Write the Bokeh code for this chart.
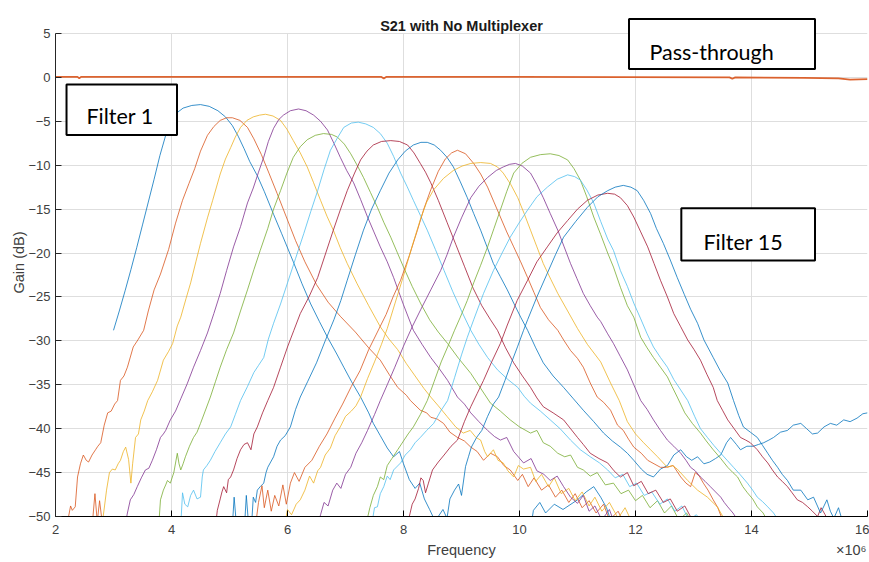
from bokeh.plotting import figure
from bokeh.models import Range1d, Label, BoxAnnotation, FixedTicker, LinearAxis
from bokeh.embed import file_html
from bokeh.resources import INLINE

# Frequency axis in MHz (axis shows x10^6), gain in dB.
FILTER_01 = [(3.00,-28.8),(3.10,-26.6),(3.20,-24.3),(3.30,-21.9),(3.40,-19.4),(3.50,-16.8),(3.60,-14.2),(3.70,-11.6),(3.80,-8.9),(3.90,-6.6),(4.00,-5.0),(4.10,-4.0),(4.20,-3.5),(4.35,-3.2),(4.50,-3.1),(4.65,-3.3),(4.80,-3.8),(4.93,-4.5),(5.05,-5.5),(5.15,-6.7),(5.25,-8.1),(5.35,-9.6),(5.48,-11.2),(5.60,-13.0),(5.76,-15.6),(5.90,-17.8),(6.10,-21.0),(6.25,-23.5),(6.40,-25.8),(6.55,-27.8),(6.69,-29.6),(6.85,-31.5),(6.97,-33.0),(7.10,-34.6),(7.26,-36.4),(7.40,-38.2),(7.48,-39.4),(7.60,-40.8),(7.72,-42.2),(7.83,-43.2),(7.93,-42.6),(8.00,-44.0),(8.10,-45.8),(8.20,-46.8),(8.28,-46.2),(8.36,-48.0),(8.45,-49.2),(8.55,-50.6),(8.65,-52.0),(9.50,-53.0),(10.20,-51.0),(10.24,-49.3),(10.35,-48.4),(10.45,-49.6),(10.60,-48.6),(10.75,-49.2),(11.00,-48.1),(11.15,-47.2),(11.28,-46.6),(11.40,-47.8),(11.50,-49.0),(11.60,-51.0)]
FILTER_02 = [(2.22,-50.2),(2.26,-48.8),(2.29,-49.3),(2.34,-48.9),(2.38,-45.5),(2.43,-44.0),(2.48,-43.0),(2.53,-43.6),(2.57,-43.8),(2.63,-43.0),(2.69,-42.4),(2.73,-42.0),(2.78,-41.6),(2.84,-39.6),(2.90,-38.2),(2.96,-38.0),(3.02,-37.2),(3.07,-36.8),(3.12,-34.5),(3.18,-34.0),(3.24,-33.0),(3.34,-30.7),(3.42,-29.9),(3.52,-28.8),(3.60,-26.6),(3.70,-24.2),(3.81,-22.4),(3.95,-19.6),(4.07,-16.6),(4.19,-14.0),(4.30,-12.1),(4.40,-10.4),(4.50,-8.4),(4.62,-6.6),(4.73,-5.6),(4.84,-4.9),(4.95,-4.6),(5.05,-4.6),(5.18,-4.9),(5.31,-5.7),(5.42,-7.0),(5.55,-8.8),(5.68,-10.9),(5.82,-13.2),(5.98,-15.9),(6.14,-18.6),(6.30,-21.0),(6.50,-23.6),(6.70,-25.6),(6.91,-27.2),(7.17,-29.0),(7.40,-30.8),(7.60,-32.2),(7.75,-33.8),(7.90,-35.3),(8.05,-36.2),(8.12,-36.8),(8.29,-37.9),(8.40,-38.2),(8.47,-38.7),(8.58,-38.9),(8.69,-39.4),(8.80,-40.4),(8.93,-41.0),(9.05,-41.4),(9.16,-42.1),(9.27,-42.6),(9.38,-43.6),(9.50,-42.8),(9.62,-43.2),(9.73,-44.2),(9.84,-44.7),(9.97,-45.9),(10.05,-45.2),(10.15,-46.6),(10.25,-45.6),(10.38,-47.0),(10.50,-46.4),(10.62,-47.8),(10.73,-47.0),(10.85,-48.4),(10.96,-47.4),(11.08,-49.0),(11.20,-48.2),(11.32,-49.6),(11.45,-48.6),(11.55,-50.4),(11.70,-49.4),(11.82,-51.0)]
FILTER_03 = [(2.80,-51.0),(2.83,-49.6),(2.88,-47.0),(2.93,-45.0),(2.98,-44.6),(3.03,-44.7),(3.08,-44.0),(3.12,-43.6),(3.17,-42.6),(3.21,-42.1),(3.26,-43.5),(3.30,-46.2),(3.33,-44.0),(3.38,-41.0),(3.43,-40.6),(3.47,-39.0),(3.53,-38.0),(3.59,-36.8),(3.67,-35.8),(3.76,-34.5),(3.86,-32.2),(3.95,-31.2),(4.02,-30.3),(4.10,-28.3),(4.16,-27.3),(4.25,-25.2),(4.33,-23.4),(4.42,-21.0),(4.50,-18.9),(4.62,-16.0),(4.71,-14.0),(4.84,-11.0),(4.93,-9.3),(5.02,-8.0),(5.10,-6.8),(5.19,-5.7),(5.30,-4.9),(5.41,-4.5),(5.52,-4.3),(5.62,-4.2),(5.75,-4.4),(5.88,-4.9),(5.99,-5.9),(6.10,-7.2),(6.22,-8.6),(6.34,-10.2),(6.45,-12.0),(6.57,-14.0),(6.68,-15.8),(6.79,-17.4),(6.91,-19.4),(7.03,-21.2),(7.20,-23.5),(7.40,-26.0),(7.60,-28.4),(7.75,-29.8),(7.90,-31.0),(8.05,-32.6),(8.20,-34.0),(8.35,-35.4),(8.47,-36.4),(8.60,-37.4),(8.75,-38.6),(8.90,-39.8),(9.03,-40.5),(9.15,-40.2),(9.25,-41.0),(9.33,-41.3),(9.40,-42.6),(9.45,-43.2),(9.55,-42.4),(9.63,-43.6),(9.72,-43.9),(9.80,-44.8),(9.90,-45.5),(9.98,-44.2),(10.07,-44.6),(10.19,-44.4),(10.28,-46.0),(10.38,-45.2),(10.50,-46.6),(10.60,-45.6),(10.72,-47.4),(10.85,-46.8),(10.96,-48.2),(11.08,-47.2),(11.20,-48.8),(11.30,-47.8),(11.42,-49.4),(11.55,-48.4),(11.70,-50.2),(11.82,-49.0),(11.95,-50.8),(12.10,-51.5)]
FILTER_04 = [(3.20,-51.0),(3.24,-49.6),(3.29,-48.1),(3.35,-47.5),(3.41,-46.6),(3.48,-45.6),(3.55,-44.7),(3.61,-44.5),(3.67,-43.6),(3.74,-42.4),(3.81,-41.0),(3.86,-40.6),(3.90,-40.2),(3.98,-39.0),(4.07,-38.0),(4.16,-36.6),(4.27,-34.9),(4.38,-33.0),(4.50,-31.1),(4.62,-29.1),(4.73,-26.9),(4.84,-24.6),(4.95,-22.0),(5.07,-19.3),(5.19,-17.0),(5.31,-14.3),(5.41,-12.6),(5.50,-10.8),(5.59,-9.1),(5.67,-7.3),(5.76,-5.8),(5.85,-4.8),(5.93,-4.3),(6.05,-3.8),(6.19,-3.6),(6.32,-3.8),(6.45,-4.3),(6.57,-5.0),(6.69,-6.0),(6.80,-7.5),(6.91,-9.1),(7.02,-10.6),(7.14,-12.0),(7.26,-13.9),(7.38,-15.9),(7.49,-17.6),(7.60,-19.3),(7.72,-21.0),(7.83,-22.8),(8.00,-25.9),(8.17,-28.8),(8.32,-30.4),(8.47,-31.9),(8.62,-33.2),(8.76,-34.5),(8.93,-36.4),(9.05,-37.2),(9.16,-38.2),(9.30,-39.2),(9.45,-40.2),(9.57,-40.9),(9.67,-41.3),(9.78,-41.0),(9.90,-42.6),(10.07,-43.9),(10.20,-43.4),(10.30,-44.8),(10.42,-45.2),(10.53,-45.9),(10.65,-45.4),(10.76,-46.6),(10.88,-47.8),(11.00,-48.5),(11.10,-47.6),(11.20,-49.4),(11.30,-48.8),(11.42,-50.4),(11.55,-49.2),(11.65,-51.0)]
FILTER_05 = [(3.78,-51.0),(3.81,-48.1),(3.86,-47.0),(3.90,-46.4),(3.93,-45.9),(3.98,-46.2),(4.04,-45.0),(4.10,-42.8),(4.13,-44.0),(4.16,-44.7),(4.20,-44.0),(4.24,-43.2),(4.31,-42.0),(4.38,-41.0),(4.44,-40.4),(4.50,-39.4),(4.58,-38.0),(4.67,-36.4),(4.76,-34.6),(4.84,-33.0),(4.95,-31.0),(5.07,-29.1),(5.19,-26.6),(5.31,-24.2),(5.42,-21.9),(5.53,-19.7),(5.66,-17.2),(5.76,-15.0),(5.88,-12.9),(5.99,-10.9),(6.10,-9.1),(6.22,-7.9),(6.34,-7.1),(6.48,-6.6),(6.62,-6.4),(6.76,-6.5),(6.86,-6.8),(6.98,-7.6),(7.09,-8.7),(7.20,-10.0),(7.31,-11.4),(7.43,-13.1),(7.55,-14.8),(7.66,-16.5),(7.78,-18.2),(7.89,-19.9),(8.00,-21.6),(8.15,-23.8),(8.30,-25.8),(8.45,-27.6),(8.60,-29.0),(8.76,-30.3),(8.95,-32.0),(9.16,-33.7),(9.33,-35.4),(9.50,-37.1),(9.67,-38.0),(9.84,-39.0),(10.00,-39.8),(10.19,-40.5),(10.30,-40.2),(10.41,-41.6),(10.53,-42.0),(10.66,-42.8),(10.78,-43.2),(10.88,-43.0),(11.00,-44.4),(11.10,-44.7),(11.22,-45.4),(11.34,-45.0),(11.48,-46.4),(11.62,-46.2),(11.75,-47.4),(11.88,-47.0),(12.00,-48.2),(12.12,-47.6),(12.25,-49.0),(12.38,-48.2),(12.50,-49.6),(12.62,-48.8),(12.75,-50.4),(12.88,-49.6),(13.00,-51.0)]
FILTER_06 = [(4.16,-51.0),(4.19,-47.3),(4.23,-48.6),(4.28,-48.9),(4.33,-47.6),(4.38,-47.0),(4.44,-48.0),(4.50,-47.8),(4.53,-45.5),(4.55,-44.7),(4.61,-44.2),(4.67,-43.6),(4.75,-42.6),(4.84,-41.6),(4.93,-40.6),(5.02,-39.8),(5.10,-38.4),(5.19,-36.8),(5.31,-35.2),(5.42,-33.6),(5.50,-32.8),(5.59,-31.9),(5.67,-29.8),(5.76,-28.0),(5.88,-25.8),(6.00,-23.4),(6.14,-20.6),(6.28,-17.8),(6.40,-15.3),(6.52,-12.9),(6.63,-10.5),(6.74,-8.3),(6.86,-6.9),(6.97,-5.7),(7.10,-5.2),(7.22,-5.1),(7.35,-5.3),(7.48,-5.7),(7.60,-6.4),(7.72,-7.5),(7.83,-9.0),(7.95,-10.9),(8.06,-12.4),(8.17,-14.0),(8.29,-15.7),(8.41,-17.4),(8.55,-19.6),(8.70,-22.0),(8.85,-24.4),(9.00,-26.6),(9.16,-28.8),(9.30,-30.4),(9.45,-31.9),(9.62,-33.3),(9.80,-34.4),(9.97,-35.3),(10.08,-36.3),(10.19,-37.1),(10.36,-38.0),(10.53,-39.0),(10.70,-40.0),(10.88,-41.3),(11.05,-42.4),(11.22,-43.2),(11.38,-43.9),(11.52,-44.7),(11.65,-45.6),(11.78,-45.2),(11.90,-46.6),(12.02,-46.2),(12.15,-47.6),(12.28,-47.2),(12.42,-48.6),(12.55,-48.0),(12.68,-49.4),(12.80,-48.8),(12.92,-50.4),(13.05,-49.8),(13.20,-51.0)]
FILTER_07 = [(4.76,-51.0),(4.79,-49.3),(4.84,-48.0),(4.87,-47.2),(4.90,-46.6),(4.95,-47.3),(4.98,-45.8),(5.02,-45.5),(5.07,-44.7),(5.13,-43.4),(5.19,-42.4),(5.25,-41.8),(5.31,-41.6),(5.37,-42.4),(5.42,-40.6),(5.48,-39.8),(5.57,-38.2),(5.66,-36.8),(5.76,-35.3),(5.88,-33.0),(6.00,-30.7),(6.11,-28.8),(6.22,-26.9),(6.37,-25.0),(6.52,-22.8),(6.66,-20.0),(6.79,-17.4),(6.91,-15.1),(7.03,-12.9),(7.15,-11.0),(7.26,-9.4),(7.37,-8.4),(7.48,-7.7),(7.62,-7.3),(7.78,-7.2),(7.93,-7.3),(8.07,-7.7),(8.18,-8.6),(8.29,-9.8),(8.38,-10.8),(8.47,-12.0),(8.60,-14.0),(8.75,-16.5),(8.90,-19.0),(9.05,-21.5),(9.20,-24.0),(9.35,-26.0),(9.50,-27.6),(9.62,-28.8),(9.76,-30.8),(9.90,-32.5),(10.05,-34.0),(10.19,-35.3),(10.30,-36.5),(10.41,-37.5),(10.58,-38.2),(10.76,-39.0),(10.88,-40.0),(11.00,-41.0),(11.10,-41.8),(11.22,-42.8),(11.37,-43.4),(11.52,-43.9),(11.63,-44.8),(11.74,-45.5),(11.86,-45.0),(11.97,-46.5),(12.10,-46.0),(12.22,-47.4),(12.35,-47.0),(12.48,-48.4),(12.60,-48.0),(12.72,-49.4),(12.85,-48.8),(12.98,-50.4),(13.10,-51.0)]
FILTER_08 = [(5.05,-51.0),(5.08,-47.8),(5.12,-51.0),(5.26,-51.0),(5.29,-47.6),(5.33,-51.0),(5.38,-51.0),(5.41,-47.8),(5.45,-48.4),(5.48,-47.0),(5.53,-46.6),(5.59,-46.2),(5.63,-45.0),(5.66,-44.4),(5.71,-43.8),(5.76,-43.2),(5.82,-42.0),(5.88,-41.3),(5.96,-40.8),(6.05,-39.8),(6.14,-37.8),(6.22,-36.4),(6.35,-34.6),(6.50,-32.5),(6.65,-30.0),(6.80,-27.6),(6.92,-25.4),(7.03,-23.1),(7.17,-20.2),(7.31,-17.4),(7.45,-15.0),(7.60,-12.9),(7.75,-10.9),(7.90,-9.4),(8.03,-8.4),(8.17,-7.7),(8.30,-7.4),(8.41,-7.4),(8.53,-7.7),(8.64,-8.3),(8.75,-9.1),(8.86,-10.2),(8.98,-11.9),(9.10,-13.7),(9.21,-15.5),(9.33,-17.4),(9.44,-19.3),(9.55,-21.2),(9.67,-22.7),(9.79,-24.2),(9.90,-25.7),(10.02,-27.3),(10.14,-28.8),(10.28,-30.8),(10.41,-32.5),(10.58,-34.0),(10.76,-35.3),(10.93,-36.6),(11.10,-37.9),(11.28,-39.2),(11.45,-40.5),(11.60,-41.4),(11.74,-42.1),(11.86,-42.8),(11.97,-43.6),(12.10,-44.6),(12.20,-45.2),(12.31,-45.5),(12.43,-44.6),(12.55,-44.2),(12.66,-43.0),(12.78,-42.4),(12.88,-43.2),(12.97,-43.6),(13.07,-43.2),(13.18,-44.0),(13.28,-43.8),(13.38,-43.4),(13.47,-43.0),(13.57,-41.6),(13.64,-41.0),(13.74,-41.8),(13.81,-42.4),(13.92,-42.0),(14.03,-42.0),(14.12,-41.8),(14.21,-41.6),(14.30,-41.3),(14.38,-41.0),(14.50,-40.4),(14.62,-40.2),(14.72,-39.6),(14.85,-39.4),(14.95,-40.0),(15.05,-40.6),(15.14,-40.5),(15.25,-39.8),(15.36,-39.4),(15.47,-39.6),(15.59,-39.0),(15.70,-39.2),(15.82,-38.8),(15.92,-38.3),(16.00,-38.2)]
FILTER_09 = [(2.62,-52.0),(2.68,-47.4),(2.72,-50.6),(2.76,-48.2),(2.80,-50.4),(2.84,-51.0),(5.45,-51.0),(5.50,-48.4),(5.56,-46.5),(5.60,-49.0),(5.66,-47.0),(5.72,-49.4),(5.78,-47.6),(5.85,-48.8),(5.92,-46.4),(5.98,-48.6),(6.05,-46.2),(6.12,-45.0),(6.20,-46.0),(6.30,-44.4),(6.42,-43.6),(6.55,-42.0),(6.68,-40.6),(6.82,-38.8),(6.95,-37.2),(7.10,-35.2),(7.25,-33.4),(7.40,-31.0),(7.55,-29.0),(7.70,-27.0),(7.82,-25.0),(7.95,-23.1),(8.10,-20.3),(8.24,-17.4),(8.35,-15.0),(8.47,-12.8),(8.60,-10.7),(8.72,-9.3),(8.83,-8.6),(8.93,-8.3),(9.07,-8.7),(9.21,-9.8),(9.33,-11.0),(9.45,-12.5),(9.56,-14.2),(9.67,-15.9),(9.78,-17.6),(9.90,-19.3),(10.02,-21.0),(10.14,-22.8),(10.25,-24.5),(10.36,-26.2),(10.50,-27.6),(10.66,-28.8),(10.77,-30.0),(10.88,-31.1),(11.00,-32.0),(11.10,-33.0),(11.22,-34.8),(11.34,-36.4),(11.45,-37.0),(11.57,-37.9),(11.69,-39.6),(11.79,-40.2),(11.88,-41.2),(11.97,-42.1),(12.10,-42.8),(12.21,-43.6),(12.32,-44.0),(12.43,-44.4),(12.53,-44.4),(12.65,-44.2),(12.78,-45.5),(12.87,-46.2),(12.95,-46.6),(13.03,-45.0),(13.10,-45.4),(13.17,-46.2),(13.25,-47.0),(13.34,-48.1),(13.42,-49.0),(13.50,-50.4),(13.60,-51.0)]
FILTER_10 = [(5.95,-51.0),(6.00,-49.2),(6.07,-49.8),(6.15,-48.6),(6.22,-48.1),(6.30,-47.0),(6.38,-45.4),(6.45,-46.2),(6.52,-44.8),(6.57,-44.4),(6.65,-43.0),(6.74,-42.2),(6.82,-40.8),(6.91,-39.8),(7.00,-38.6),(7.10,-38.0),(7.18,-37.4),(7.26,-36.4),(7.38,-34.3),(7.50,-32.4),(7.62,-30.4),(7.72,-28.6),(7.85,-25.8),(8.00,-22.6),(8.15,-19.2),(8.29,-16.2),(8.40,-14.2),(8.52,-12.8),(8.69,-11.5),(8.86,-10.6),(9.01,-10.1),(9.16,-9.8),(9.33,-9.7),(9.50,-9.8),(9.62,-10.2),(9.72,-10.9),(9.85,-12.2),(9.97,-13.7),(10.08,-15.5),(10.19,-17.4),(10.30,-19.3),(10.41,-21.2),(10.54,-23.0),(10.66,-24.6),(10.83,-26.6),(11.00,-28.6),(11.17,-30.4),(11.40,-32.4),(11.57,-34.8),(11.72,-36.8),(11.86,-39.2),(12.00,-40.6),(12.14,-41.6),(12.26,-42.4),(12.38,-43.2),(12.55,-44.4),(12.64,-44.2),(12.72,-44.6),(12.90,-45.9),(13.07,-47.0),(13.24,-47.8),(13.41,-48.9),(13.55,-50.5),(13.65,-51.0)]
FILTER_11 = [(6.52,-51.0),(6.57,-49.8),(6.63,-48.4),(6.70,-48.8),(6.78,-47.0),(6.85,-46.2),(6.92,-46.8),(7.00,-45.2),(7.09,-44.4),(7.18,-42.8),(7.28,-41.6),(7.38,-40.2),(7.50,-38.4),(7.60,-36.8),(7.72,-35.0),(7.85,-33.0),(8.00,-30.6),(8.15,-28.4),(8.30,-26.4),(8.47,-24.2),(8.64,-22.0),(8.75,-20.2),(8.86,-18.2),(9.00,-16.0),(9.16,-13.7),(9.30,-12.4),(9.45,-11.4),(9.60,-10.6),(9.72,-10.2),(9.83,-9.9),(9.93,-9.8),(10.05,-10.1),(10.19,-10.9),(10.30,-12.2),(10.41,-13.7),(10.53,-15.5),(10.66,-17.4),(10.77,-19.3),(10.88,-21.2),(10.99,-22.9),(11.10,-24.6),(11.22,-26.0),(11.34,-27.3),(11.40,-27.8),(11.52,-29.2),(11.62,-30.3),(11.74,-31.8),(11.86,-33.3),(11.97,-35.0),(12.09,-36.8),(12.20,-37.8),(12.31,-39.0),(12.43,-40.2),(12.55,-41.3),(12.66,-42.0),(12.78,-42.8),(12.87,-43.6),(12.95,-44.4),(13.03,-44.8),(13.12,-45.5),(13.20,-46.0),(13.29,-46.6),(13.38,-47.2),(13.47,-47.8),(13.53,-48.4),(13.59,-48.9),(13.68,-49.6),(13.78,-50.6)]
FILTER_12 = [(7.35,-51.0),(7.42,-49.0),(7.48,-47.6),(7.55,-46.6),(7.60,-45.5),(7.66,-45.8),(7.72,-44.2),(7.80,-43.4),(7.90,-42.4),(8.00,-41.4),(8.08,-40.6),(8.17,-39.8),(8.29,-38.4),(8.41,-36.8),(8.53,-34.6),(8.65,-32.4),(8.78,-30.4),(8.88,-28.8),(8.98,-27.3),(9.10,-25.4),(9.21,-23.4),(9.33,-21.4),(9.45,-19.3),(9.56,-17.2),(9.67,-15.1),(9.78,-13.0),(9.90,-10.9),(10.04,-9.8),(10.19,-9.1),(10.36,-8.8),(10.53,-8.7),(10.68,-8.9),(10.83,-9.4),(10.94,-10.4),(11.05,-11.7),(11.16,-13.6),(11.28,-15.9),(11.40,-17.9),(11.52,-20.0),(11.62,-21.6),(11.74,-23.9),(11.86,-26.0),(11.97,-27.3),(12.09,-29.6),(12.20,-30.8),(12.31,-31.9),(12.43,-33.0),(12.55,-34.1),(12.63,-35.2),(12.72,-36.4),(12.85,-38.2),(12.98,-39.4),(13.12,-40.5),(13.22,-41.4),(13.34,-42.4),(13.47,-43.4),(13.59,-44.4),(13.68,-45.0),(13.76,-45.5),(13.85,-46.6),(13.93,-47.3),(14.02,-48.0),(14.10,-48.9),(14.20,-49.6),(14.30,-50.8)]
FILTER_13 = [(7.45,-51.0),(7.50,-49.0),(7.55,-48.9),(7.60,-47.4),(7.66,-46.6),(7.72,-45.4),(7.77,-45.8),(7.83,-44.7),(7.95,-43.9),(8.03,-43.0),(8.12,-42.4),(8.20,-41.6),(8.29,-41.0),(8.40,-40.2),(8.52,-39.4),(8.64,-38.0),(8.76,-36.8),(8.88,-34.2),(9.00,-31.6),(9.10,-29.6),(9.21,-27.6),(9.38,-24.6),(9.55,-22.0),(9.70,-20.0),(9.84,-18.2),(9.99,-16.6),(10.14,-15.1),(10.30,-13.6),(10.48,-12.5),(10.65,-11.6),(10.83,-11.1),(10.95,-11.3),(11.05,-11.7),(11.16,-12.8),(11.28,-14.3),(11.40,-16.4),(11.52,-18.4),(11.62,-19.7),(11.74,-22.0),(11.86,-23.8),(11.97,-25.7),(12.09,-27.5),(12.20,-29.2),(12.31,-30.7),(12.43,-31.9),(12.55,-33.0),(12.66,-34.4),(12.78,-35.6),(12.90,-36.8),(13.02,-38.6),(13.12,-40.0),(13.24,-41.0),(13.35,-41.9),(13.47,-42.8),(13.58,-43.6),(13.69,-44.4),(13.80,-45.2),(13.93,-46.2),(14.02,-47.0),(14.10,-47.8),(14.19,-48.3),(14.28,-48.9),(14.38,-49.6),(14.48,-50.6)]
FILTER_14 = [(8.06,-51.0),(8.10,-50.0),(8.15,-48.6),(8.20,-48.0),(8.26,-46.8),(8.30,-45.6),(8.34,-45.9),(8.38,-47.3),(8.43,-46.2),(8.50,-44.7),(8.60,-43.8),(8.70,-43.0),(8.82,-42.0),(8.93,-41.3),(9.05,-39.2),(9.16,-37.5),(9.27,-36.0),(9.38,-34.5),(9.52,-32.4),(9.67,-30.3),(9.79,-28.2),(9.96,-25.4),(10.14,-23.1),(10.30,-21.0),(10.48,-19.3),(10.65,-17.7),(10.83,-16.3),(11.00,-15.0),(11.17,-14.0),(11.35,-13.4),(11.52,-13.2),(11.64,-13.3),(11.74,-13.7),(11.86,-14.6),(11.97,-15.9),(12.09,-17.6),(12.21,-19.3),(12.32,-21.2),(12.43,-23.1),(12.55,-25.0),(12.66,-26.9),(12.78,-28.4),(12.90,-29.9),(13.01,-31.0),(13.12,-32.2),(13.23,-33.8),(13.34,-35.3),(13.41,-36.8),(13.50,-37.9),(13.59,-39.0),(13.70,-40.0),(13.81,-41.0),(13.90,-41.3),(13.98,-41.6),(14.10,-42.4),(14.19,-43.2),(14.28,-43.9),(14.36,-44.7),(14.45,-45.5),(14.53,-46.0),(14.62,-46.6),(14.70,-47.3),(14.79,-48.1),(14.88,-48.4),(14.97,-48.9),(15.05,-49.4),(15.14,-50.0),(15.20,-49.0),(15.27,-49.8),(15.35,-51.0)]
FILTER_15 = [(8.55,-51.0),(8.60,-50.0),(8.68,-49.2),(8.75,-50.2),(8.80,-48.0),(8.88,-47.0),(8.95,-46.3),(9.00,-47.6),(9.07,-44.3),(9.12,-43.2),(9.17,-42.1),(9.26,-41.0),(9.35,-40.2),(9.45,-38.6),(9.55,-37.2),(9.64,-36.4),(9.75,-34.5),(9.86,-32.5),(9.97,-30.6),(10.07,-28.8),(10.14,-27.6),(10.30,-25.0),(10.48,-22.3),(10.62,-20.2),(10.76,-18.2),(10.97,-16.4),(11.17,-14.8),(11.35,-13.6),(11.52,-12.9),(11.65,-12.5),(11.79,-12.3),(11.92,-12.5),(12.03,-12.9),(12.14,-14.0),(12.26,-15.5),(12.36,-17.2),(12.48,-18.9),(12.60,-20.8),(12.72,-22.8),(12.84,-24.7),(12.95,-26.4),(13.07,-28.0),(13.18,-29.9),(13.34,-31.9),(13.46,-33.4),(13.59,-34.8),(13.69,-36.8),(13.78,-38.5),(13.86,-39.8),(13.98,-40.4),(14.10,-41.0),(14.19,-41.9),(14.28,-42.8),(14.36,-43.6),(14.45,-44.4),(14.53,-45.2),(14.62,-45.9),(14.72,-47.0),(14.85,-47.0),(14.97,-48.1),(15.07,-47.8),(15.19,-49.6),(15.25,-48.8),(15.30,-48.1),(15.36,-49.4),(15.42,-50.2),(15.50,-49.0),(15.57,-50.6),(15.65,-51.5)]
PASS_THROUGH = [(2.00,0.05),(2.38,0.05),(2.41,-0.12),(2.44,0.05),(5.00,0.05),(7.62,0.05),(7.66,-0.12),(7.70,0.05),(10.00,0.05),(13.62,0.00),(13.67,-0.15),(13.72,0.00),(14.90,-0.05),(15.50,-0.12),(15.70,-0.25),(16.00,-0.20)]

FILTERS = [FILTER_01, FILTER_02, FILTER_03, FILTER_04, FILTER_05, FILTER_06, FILTER_07,
           FILTER_08, FILTER_09, FILTER_10, FILTER_11, FILTER_12, FILTER_13, FILTER_14, FILTER_15]

X_TICKS = [2, 4, 6, 8, 10, 12, 14, 16]
Y_TICKS = [-50, -45, -40, -35, -30, -25, -20, -15, -10, -5, 0, 5]
Y_MIN, Y_MAX = -50, 5
Y_HEADROOM = 7.84      # room above the axes for the title and the pass-through note

# MATLAB default line colour order
COLOR_ORDER = ["#0072BD", "#D95319", "#EDB120", "#7E2F8E", "#77AC30", "#4DBEEE", "#A2142F"]

AXIS_FONT = "Liberation Sans"
BOX_FONT = "Lato"
TEXT_GREY = "#404040"

p = figure(width=869, height=562, x_range=Range1d(2, 16), y_range=Range1d(Y_MIN, Y_HEADROOM),
           output_backend="svg", toolbar_location=None,
           min_border_left=55, min_border_right=2, min_border_top=8, min_border_bottom=46,
           background_fill_color="white", border_fill_color="white", outline_line_color=None)

for i, pts in enumerate(FILTERS):
    p.line([f for f, _ in pts], [g for _, g in pts], line_color=COLOR_ORDER[i % 7],
           line_width=1.0, line_alpha=0.78)

p.line([f for f, _ in PASS_THROUGH], [g for _, g in PASS_THROUGH],
       line_color=COLOR_ORDER[15 % 7], line_width=1.7, line_alpha=0.9)

# grid, limited to the axes box
p.xgrid.ticker = FixedTicker(ticks=X_TICKS)
p.ygrid.ticker = FixedTicker(ticks=Y_TICKS)
for g in (p.xgrid, p.ygrid):
    g.grid_line_color = "#dedede"
    g.grid_line_width = 1
try:
    p.xgrid.cross_bounds = (Y_MIN, Y_MAX)
except AttributeError:
    pass
# white band over the headroom so no grid line shows above the top of the axes
p.add_layout(BoxAnnotation(bottom=Y_MAX + 0.08, top=Y_HEADROOM, fill_color="white",
                           fill_alpha=1.0, line_color=None, level="glyph"))

# bottom axis: ticks and numbers
xa = p.xaxis[0]
xa.ticker = FixedTicker(ticks=X_TICKS)
xa.axis_label = None
xa.axis_line_color = "#000000"
xa.major_tick_line_color = "#000000"
xa.major_label_standoff = 8

# left axis
ya = p.yaxis[0]
ya.ticker = FixedTicker(ticks=Y_TICKS)
ya.bounds = (Y_MIN, Y_MAX)
ya.axis_label = "Gain (dB)"
ya.axis_line_color = "#262626"
ya.major_tick_line_color = "#262626"
ya.major_label_standoff = 5
ya.axis_label_standoff = -2
ya.axis_label_text_font = AXIS_FONT
ya.axis_label_text_font_size = "14.5px"
ya.axis_label_text_font_style = "normal"
ya.axis_label_text_color = TEXT_GREY

for ax in (xa, ya):
    ax.major_tick_in = 6
    ax.major_tick_out = 0
    ax.minor_tick_line_color = None
    ax.major_label_text_font = AXIS_FONT
    ax.major_label_text_font_size = "13px"
    ax.major_label_text_color = TEXT_GREY

# second row under the axis: the axis name and the x10^6 exponent
label_row = LinearAxis(ticker=FixedTicker(ticks=[9.0, 15.72]),
                       major_label_overrides={9.0: "Frequency", 15.72: "\u00d710\u2076"},
                       axis_line_color=None, major_tick_line_color=None,
                       minor_tick_line_color=None, major_tick_in=0, major_tick_out=0,
                       major_label_standoff=5, major_label_text_font=AXIS_FONT,
                       major_label_text_font_size="14.5px", major_label_text_color=TEXT_GREY)
p.add_layout(label_row, "below")

# title
p.add_layout(Label(x=9, y=5.9, text="S21 with No Multiplexer", text_align="center",
                   text_baseline="alphabetic", text_font=AXIS_FONT, text_font_size="14.5px",
                   text_font_style="bold", text_color="#1a1a1a"))

# callout boxes
for left, right, top, bottom in [(2.19, 4.095, -0.80, -6.55),
                                 (11.888, 15.095, 6.65, 0.96),
                                 (12.79, 15.095, -14.9, -20.85)]:
    p.add_layout(BoxAnnotation(left=left, right=right, top=top, bottom=bottom,
                               fill_color="white", fill_alpha=1.0,
                               line_color="black", line_alpha=1.0, line_width=2))

for x, y, txt in [(2.534, -4.44, "Filter 1"), (12.241, 2.84, "Pass-through"),
                  (13.172, -18.77, "Filter 15")]:
    p.add_layout(Label(x=x, y=y, text=txt, text_align="left", text_baseline="alphabetic",
                       text_font=BOX_FONT, text_font_size="21.5px", text_color="#000000"))

open("out.html", "w").write(file_html(p, INLINE))
